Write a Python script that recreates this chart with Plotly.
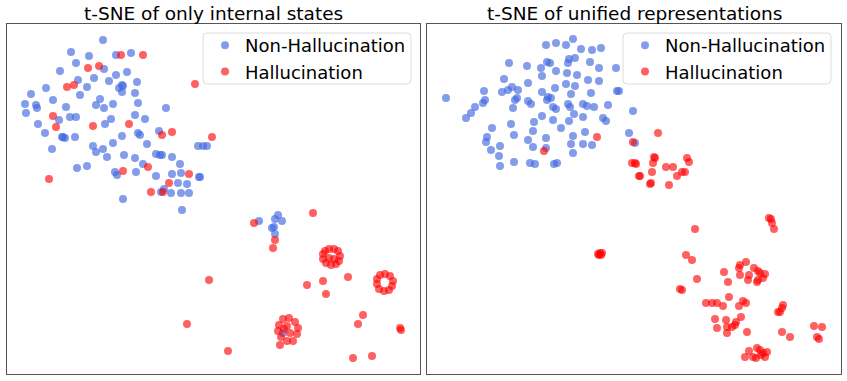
import plotly.graph_objects as go

# point positions (panel pixel units, y grows downward)
left_blue_x = [103, 71, 89, 116, 131, 76, 104, 60, 116, 127, 94, 78, 87, 109, 122, 119, 123, 137, 46, 31, 80,
               122, 135, 53, 100, 96, 104, 113, 138, 25, 36, 37, 66, 166, 26, 70, 76, 59, 135, 111, 145, 105,
               38, 45, 62, 65, 63, 75, 122, 138, 140, 159, 52, 93, 96, 103, 113, 147, 198, 203, 207, 107, 124,
               135, 156, 160, 162, 172, 77, 87, 143, 180, 115, 117, 136, 156, 172, 181, 199, 178, 187, 164,
               161, 171, 181, 189, 123, 182, 200,
               259, 278, 275, 282, 272, 274, 275, 283]
left_blue_y = [40, 52, 56, 55, 53, 63, 69, 71, 75, 72, 78, 80, 87, 81, 85, 88, 86, 82, 88, 94, 95,
               92, 93, 100, 99, 105, 108, 104, 103, 104, 105, 108, 107, 108, 113, 117, 117, 120, 115, 119, 119, 124,
               124, 133, 137, 138, 137, 137, 136, 133, 135, 131, 149, 146, 152, 149, 143, 144, 146, 146, 146, 157, 155,
               158, 154, 155, 155, 157, 168, 166, 164, 164, 172, 175, 172, 176, 174, 173, 177, 183, 184, 189,
               192, 193, 193, 193, 199, 210, 177,
               221, 215, 219, 221, 228, 227, 234, 333]
left_red_x = [121, 143, 88, 99, 67, 74, 195, 53, 56, 93, 129, 162, 172, 212, 148, 123, 189, 49, 169, 163, 151,
              209, 187,
              313, 254, 275, 273,
              325, 329, 334, 338, 340, 339, 336, 331, 326, 323, 323, 329, 334,
              307, 323, 348, 326,
              380, 385, 390, 393, 392, 389, 384, 379, 377, 377,
              363, 358, 400, 401,
              283, 289, 295, 298, 297, 293, 287, 281, 278, 279, 287, 290, 284,
              280, 228, 353, 372]
left_red_y = [55, 55, 68, 66, 87, 85, 84, 116, 127, 126, 124, 135, 132, 137, 167, 171, 174, 179, 183, 192, 192,
              280, 324,
              213, 223, 240, 248,
              251, 249, 249, 251, 256, 261, 264, 265, 263, 259, 254, 258, 259,
              285, 281, 277, 294,
              275, 274, 276, 281, 286, 290, 291, 289, 284, 279,
              315, 324, 328, 330,
              319, 318, 322, 328, 334, 341, 341, 337, 331, 325, 326, 333, 329,
              345, 351, 358, 356]

right_blue_x = [446, 546, 556, 566, 573, 581, 592, 601, 509, 527, 541, 547, 550, 568, 569, 575, 590, 599, 616,
                556, 567, 577, 542, 504, 528, 588, 599, 512, 508, 518, 502, 484, 542, 555, 566, 575, 571, 591,
                617, 619, 517, 515, 548, 551, 547, 485, 483, 528, 531, 568, 570, 583, 587, 594, 608, 475, 513,
                553, 556, 471, 466, 574, 542, 534, 553, 569, 583, 603, 606, 511, 492, 533, 561, 585, 514, 487,
                486, 528, 546, 573, 629, 633, 500, 491, 533, 546, 571, 583, 592, 499, 573, 500, 514, 530, 535,
                554, 557, 635]
right_blue_y = [98, 45, 43, 45, 39, 49, 50, 48, 63, 66, 68, 62, 63, 63, 59, 58, 62, 68, 68,
                71, 73, 75, 76, 79, 83, 80, 81, 87, 90, 90, 92, 91, 92, 88, 84, 86, 94, 93,
                91, 91, 98, 100, 97, 98, 100, 100, 103, 101, 104, 104, 107, 104, 106, 107, 105, 107, 108,
                107, 109, 113, 118, 114, 116, 122, 120, 121, 117, 118, 121, 124, 128, 131, 128, 132, 135, 137,
                142, 140, 138, 136, 133, 111, 146, 150, 147, 148, 144, 144, 145, 156, 153, 166, 162, 163, 164,
                164, 163, 143]
right_red_x = [597, 544, 633, 632, 635, 639, 658, 636, 654, 655, 653, 652, 640, 666, 673, 687, 689, 682, 685,
               677, 650, 651, 669,
               598, 600, 601, 602, 599,
               769, 771, 772, 774, 695, 686, 692, 746, 740, 739, 754, 758, 760, 724, 740, 749, 765, 763, 758,
               757, 748, 697, 728, 680, 682, 729, 706, 712, 717, 723, 739, 743, 746, 783, 782, 780, 778, 715,
               717, 726, 727, 727, 736, 735, 732, 741, 747, 782, 790, 814, 822, 817, 819,
               745, 749, 757, 760, 763, 767, 765, 756, 753, 761]
right_red_y = [137, 151, 142, 163, 163, 176, 133, 164, 157, 158, 163, 172, 176, 167, 167, 158, 162, 172, 172,
               176, 184, 183, 185,
               254, 253, 255, 253, 255,
               218, 219, 223, 229, 229, 255, 260, 262, 265, 268, 268, 271, 273, 272, 275, 275, 274, 278, 280,
               282, 280, 279, 282, 289, 290, 297, 303, 303, 303, 306, 306, 301, 303, 305, 308, 312, 312, 319,
               328, 320, 327, 333, 322, 325, 327, 317, 332, 332, 337, 326, 327, 337, 339,
               357, 351, 348, 350, 353, 352, 357, 358, 357, 355]

titles = ["t-SNE of only internal states", "t-SNE of unified representations"]

W, H = 847, 381
BLUE = "rgba(65,105,225,0.65)"
RED = "rgba(255,0,0,0.62)"

fig = go.Figure()

panels = [
    (left_blue_x, left_blue_y, left_red_x, left_red_y, "x", "y", "legend"),
    (right_blue_x, right_blue_y, right_red_x, right_red_y, "x2", "y2", "legend2"),
]
for bx, by, rx, ry, xa, ya, lg in panels:
    fig.add_trace(go.Scatter(x=bx, y=by, mode="markers", name="Non-Hallucination",
                             marker=dict(size=8, color=BLUE, line=dict(width=0)),
                             xaxis=xa, yaxis=ya, legend=lg, hoverinfo="skip"))
    fig.add_trace(go.Scatter(x=rx, y=ry, mode="markers", name="Hallucination",
                             marker=dict(size=8, color=RED, line=dict(width=0)),
                             xaxis=xa, yaxis=ya, legend=lg, hoverinfo="skip"))


def box_path(x0, y0, x1, y1, r=4):
    # rounded rectangle in paper coords, given in pixels from the top-left corner
    px = lambda v: v / W
    py = lambda v: 1 - v / H
    return (f"M {px(x0 + r)},{py(y0)} L {px(x1 - r)},{py(y0)} Q {px(x1)},{py(y0)} {px(x1)},{py(y0 + r)} "
            f"L {px(x1)},{py(y1 - r)} Q {px(x1)},{py(y1)} {px(x1 - r)},{py(y1)} "
            f"L {px(x0 + r)},{py(y1)} Q {px(x0)},{py(y1)} {px(x0)},{py(y1 - r)} "
            f"L {px(x0)},{py(y0 + r)} Q {px(x0)},{py(y0)} {px(x0 + r)},{py(y0)} Z")


ydom = [1 - 374 / H, 1 - 24 / H]
frame = dict(showline=True, mirror=True, linecolor="#555555", linewidth=1.3,
             showticklabels=False, ticks="", showgrid=False, zeroline=False, fixedrange=True)

legend_style = dict(font=dict(family="DejaVu Sans", size=18, color="black"),
                    bgcolor="rgba(0,0,0,0)", borderwidth=0,
                    xanchor="right", yanchor="top", y=1 - 27 / H, tracegroupgap=0,
                    itemsizing="trace")

fig.update_layout(
    width=W, height=H,
    margin=dict(l=0, r=0, t=0, b=0, autoexpand=False),
    plot_bgcolor="white", paper_bgcolor="white",
    font=dict(family="DejaVu Sans", color="black"),
    xaxis=dict(domain=[7 / W, 420 / W], range=[7, 420], **frame),
    yaxis=dict(domain=ydom, range=[374, 24], **frame),
    xaxis2=dict(domain=[427 / W, 841 / W], range=[427, 841], **frame),
    yaxis2=dict(domain=ydom, range=[374, 24], anchor="x2", **frame),
    legend=dict(x=411 / W, **legend_style),
    legend2=dict(x=831 / W, **legend_style),
    shapes=[
        dict(type="path", path=box_path(203, 33, 411, 84), xref="paper", yref="paper",
             fillcolor="rgba(255,255,255,0.8)", line=dict(color="#dcdcdc", width=1), layer="above"),
        dict(type="path", path=box_path(623, 33, 831, 84), xref="paper", yref="paper",
             fillcolor="rgba(255,255,255,0.8)", line=dict(color="#dcdcdc", width=1), layer="above"),
    ],
    annotations=[
        dict(text=titles[0], x=(7 + 420) / 2 / W, y=1 - 1 / H, xref="paper", yref="paper",
             xanchor="center", yanchor="top", showarrow=False,
             font=dict(family="DejaVu Sans", size=18.5, color="black")),
        dict(text=titles[1], x=(427 + 841) / 2 / W, y=1 - 1 / H, xref="paper", yref="paper",
             xanchor="center", yanchor="top", showarrow=False,
             font=dict(family="DejaVu Sans", size=18.5, color="black")),
    ],
)

# the page body has a default 8px margin; drop it so the figure sits at the window corner
fig.write_html("out.html", config={"displayModeBar": False},
               post_script="document.body.style.margin='0px';")
